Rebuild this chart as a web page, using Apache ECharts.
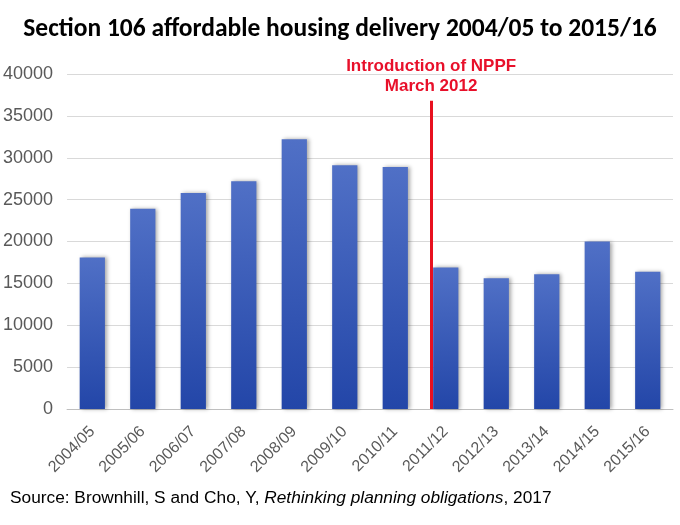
<!DOCTYPE html>
<html>
<head>
<meta charset="utf-8">
<script src="https://cdn.jsdelivr.net/npm/echarts@6/dist/echarts.min.js"></script>
<style>
html,body{margin:0;padding:0;background:#fff;}
#c{width:680px;height:525px;}
</style>
</head>
<body>
<div id="c"></div>
<script>
// Data
var categories = ['2004/05','2005/06','2006/07','2007/08','2008/09','2009/10','2010/11','2011/12','2012/13','2013/14','2014/15','2015/16'];
var deliveries = [18100, 23900, 25800, 27200, 32200, 29100, 28900, 16900, 15600, 16100, 20000, 16400];
var yTicks = [0, 5000, 10000, 15000, 20000, 25000, 30000, 35000, 40000];
var nppfPosition = 7.21;   // position along category axis (in category units)
var nppfTop = 36800;       // top of the marker line in y-axis units
var nppfLabel = ['Introduction of NPPF', 'March 2012'];
var titleText = 'Section 106 affordable housing delivery 2004/05 to 2015/16';

var chart = echarts.init(document.getElementById('c'), null, {renderer:'canvas'});
var option = {
  animation: false,
  backgroundColor: '#ffffff',
  title: [
    {
      text: titleText,
      left: 'center',
      top: 12,
      textStyle: {fontFamily: 'Carlito, "Open Sans", sans-serif', fontWeight: 'bold', fontSize: 25.5, color: '#000'}
    },
    {
      text: '{n|Source: Brownhill, S and Cho, Y, }{i|Rethinking planning obligations}{n|, 2017}',
      left: 10,
      top: 490,
      padding: 0,
      textStyle: {
        fontWeight: 'normal',
        rich: {
          n: {fontFamily: '"Liberation Sans", Arial, sans-serif', fontSize: 17.3, fontWeight: 'normal', color: '#000'},
          i: {fontFamily: '"Liberation Sans", Arial, sans-serif', fontSize: 17.3, fontWeight: 'normal', color: '#000', fontStyle: 'italic'}
        }
      }
    }
  ],
  grid: {left: 67, right: 7, top: 74, bottom: 116, containLabel: false},
  xAxis: [
    {
      type: 'category',
      data: categories,
      axisLine: {lineStyle: {color: '#bfbfbf', width: 1}},
      axisTick: {show: false},
      axisLabel: {interval: 0, rotate: 45, fontSize: 16, color: '#595959', fontFamily: '"Liberation Sans", Arial, sans-serif', margin: 20}
    },
    {
      type: 'value',
      min: 0,
      max: categories.length,
      show: false
    }
  ],
  yAxis: {
    type: 'value',
    min: yTicks[0],
    max: yTicks[yTicks.length - 1],
    interval: yTicks[1] - yTicks[0],
    axisLine: {show: false},
    axisTick: {show: false},
    splitLine: {lineStyle: {color: '#d9d9d9', width: 1}},
    axisLabel: {
      fontSize: 18, color: '#595959', fontFamily: '"Liberation Sans", Arial, sans-serif', margin: 14,
      formatter: function (v) { return String(v); }
    }
  },
  series: [
    {
      type: 'bar',
      data: deliveries,
      barWidth: '50%',
      itemStyle: {
        color: new echarts.graphic.LinearGradient(0, 0, 0, 1, [
          {offset: 0, color: '#5070c6'},
          {offset: 1, color: '#2346a8'}
        ]),
        shadowColor: 'rgba(0,0,0,0.35)',
        shadowBlur: 4,
        shadowOffsetX: 2,
        shadowOffsetY: 0
      }
    },
    {
      type: 'line',
      xAxisIndex: 1,
      data: [],
      markLine: {
        symbol: 'none',
        silent: true,
        lineStyle: {color: '#e8101f', width: 3, type: 'solid'},
        label: {
          show: true,
          position: 'end',
          distance: 4,
          formatter: nppfLabel.join('\n'),
          color: '#e8102a',
          fontWeight: 'bold',
          fontSize: 17,
          lineHeight: 20,
          fontFamily: '"Liberation Sans", Arial, sans-serif'
        },
        data: [[{coord: [nppfPosition, 0]}, {coord: [nppfPosition, nppfTop]}]]
      }
    }
  ]
};
chart.setOption(option);
</script>
</body>
</html>
